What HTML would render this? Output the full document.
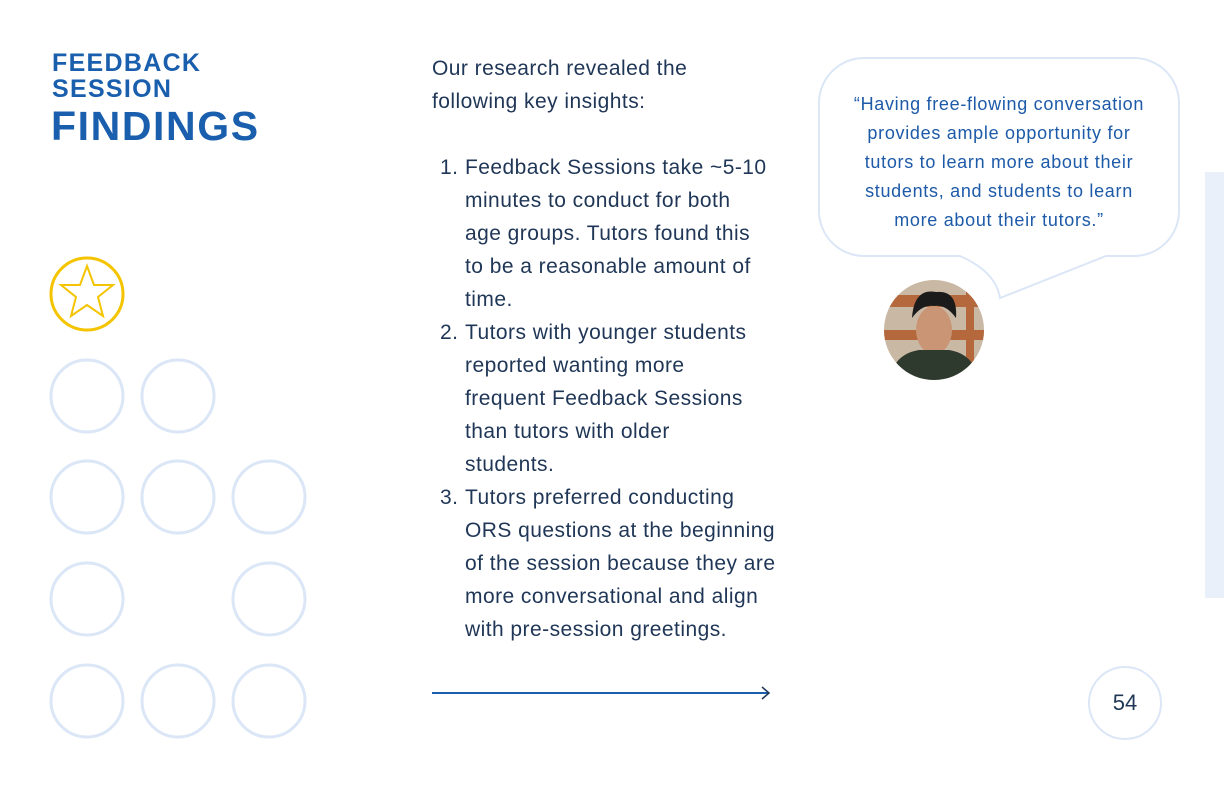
<!DOCTYPE html>
<html><head><meta charset="utf-8"><style>
body{margin:0;width:1224px;height:792px;background:#fff;position:relative;overflow:hidden;font-family:"Liberation Sans",sans-serif}
.a{position:absolute;white-space:nowrap}
.t{color:#1a5fad;font-weight:bold}
.b{color:#1f3656;font-size:21px;line-height:33px;letter-spacing:0.45px}
.q{color:#1d5aa8;font-size:18px;line-height:29px;text-align:center;width:360px;left:819px;letter-spacing:0.7px}
</style></head><body>
<div class="a t" style="left:52px;top:50px;font-size:25px;line-height:26px;letter-spacing:1.3px">FEEDBACK<br>SESSION</div>
<div class="a t" style="left:51px;top:104px;font-size:41px;line-height:44px;letter-spacing:1.6px">FINDINGS</div>
<svg class="a" style="left:0;top:0" width="320" height="792">
<g fill="none" stroke="#dbe6f6" stroke-width="3">
<circle cx="87" cy="396" r="36"/><circle cx="178" cy="396" r="36"/>
<circle cx="87" cy="497" r="36"/><circle cx="178" cy="497" r="36"/><circle cx="269" cy="497" r="36"/>
<circle cx="87" cy="599" r="36"/><circle cx="269" cy="599" r="36"/>
<circle cx="87" cy="701" r="36"/><circle cx="178" cy="701" r="36"/><circle cx="269" cy="701" r="36"/>
</g>
<circle cx="87" cy="294" r="36" fill="none" stroke="#f5c400" stroke-width="3"/>
<polygon points="87,266 94,285 113,285 98,297 103,316 87,305 71,316 76,297 61,285 80,285" fill="none" stroke="#f5c400" stroke-width="2"/>
</svg>
<div class="a b" style="left:432px;top:52px">Our research revealed the<br>following key insights:</div>
<div class="a b" style="left:440px;top:151px">1.<br><br><br><br><br>2.<br><br><br><br><br>3.</div>
<div class="a b" style="left:465px;top:151px">Feedback Sessions take ~5-10<br>minutes to conduct for both<br>age groups. Tutors found this<br>to be a reasonable amount of<br>time.<br>Tutors with younger students<br>reported wanting more<br>frequent Feedback Sessions<br>than tutors with older<br>students.<br>Tutors preferred conducting<br>ORS questions at the beginning<br>of the session because they are<br>more conversational and align<br>with pre-session greetings.</div>
<svg class="a" style="left:430px;top:684px" width="345" height="20"><line x1="2" y1="9" x2="339" y2="9" stroke="#1a5fad" stroke-width="2"/><polyline points="332,3 339,9 332,15" fill="none" stroke="#1f3656" stroke-width="1.5"/></svg>
<svg class="a" style="left:810px;top:50px" width="380" height="260">
<path d="M54,8 H324 A45,45 0 0 1 369,53 V161 A45,45 0 0 1 324,206 H296 L190,248 Q186,222 150,206 H54 A45,45 0 0 1 9,161 V53 A45,45 0 0 1 54,8 Z" fill="#fff" stroke="#dbe6f6" stroke-width="2"/>
</svg>
<div class="a q" style="top:90px">“Having free-flowing conversation<br>provides ample opportunity for<br>tutors to learn more about their<br>students, and students to learn<br>more about their tutors.”</div>
<svg class="a" style="left:884px;top:280px" width="100" height="100">
<defs><clipPath id="c"><circle cx="50" cy="50" r="50"/></clipPath></defs>
<g clip-path="url(#c)"><rect width="100" height="100" fill="#c9b8a4"/><rect x="0" y="15" width="100" height="12" fill="#b5683c"/><rect x="0" y="50" width="100" height="10" fill="#b5683c"/><rect x="82" y="0" width="8" height="100" fill="#b5683c"/>
<ellipse cx="50" cy="50" rx="18" ry="24" fill="#c99574"/><path d="M28,38 Q30,8 52,12 Q74,10 72,38 Q62,24 50,26 Q38,24 28,38Z" fill="#1b1b1b"/>
<path d="M5,100 Q10,74 35,70 L65,70 Q90,74 95,100Z" fill="#2f3a2e"/></g></svg>
<div class="a" style="left:1205px;top:172px;width:19px;height:426px;background:#eaf0fa"></div>
<div class="a" style="left:1088px;top:666px;width:70px;height:70px;border:2px solid #dbe6f6;border-radius:50%;text-align:center;line-height:70px;font-size:22px;color:#1f3656">54</div>
</body></html>
